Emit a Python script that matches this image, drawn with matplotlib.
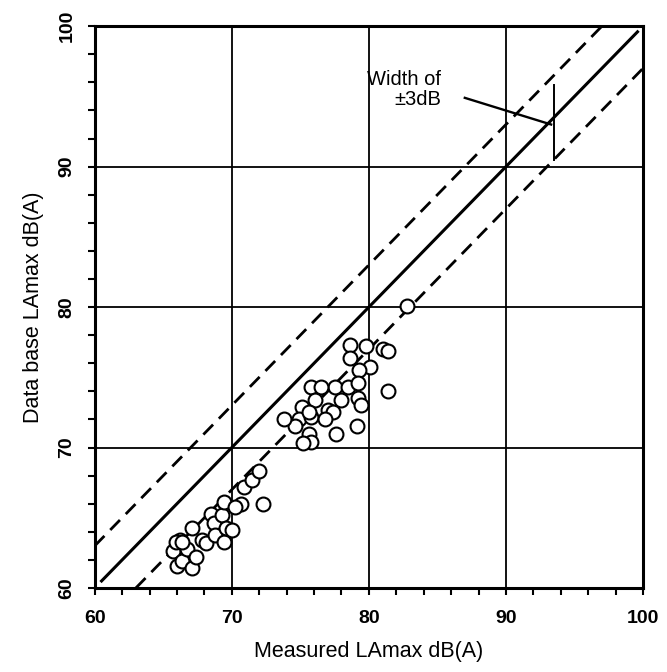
import numpy as np
import matplotlib.pyplot as plt

plt.rcParams['font.family'] = ['Liberation Sans', 'DejaVu Sans']

# measured vs data base LAmax, dB(A)
measured = [65.7, 66.0, 66.4, 67.1, 66.2, 66.7, 67.4, 67.1, 67.8, 68.1,
            68.5, 68.7, 68.8, 69.3, 69.4, 69.6, 70.0, 69.4, 70.7, 72.3,
            70.2, 70.9, 71.5, 72.0, 65.9, 66.4,
            82.8, 78.6, 79.8, 81.0, 81.4, 78.6, 80.1, 79.3, 81.4, 77.5,
            78.5, 79.2, 75.8, 76.5, 78.0, 79.2, 79.4, 79.1, 75.1, 76.1,
            77.0, 77.4, 74.9, 75.8, 76.8, 77.6, 75.6, 74.6, 75.8, 73.8,
            75.2, 75.6]
database = [62.6, 61.6, 61.9, 61.4, 63.4, 62.8, 62.2, 64.3, 63.4, 63.2,
            65.3, 64.6, 63.8, 65.2, 63.3, 64.3, 64.1, 66.1, 66.0, 66.0,
            65.8, 67.2, 67.7, 68.3, 63.3, 63.3,
            80.1, 77.3, 77.2, 77.0, 76.9, 76.4, 75.7, 75.5, 74.0, 74.3,
            74.3, 74.6, 74.3, 74.3, 73.4, 73.5, 73.0, 71.5, 72.9, 73.4,
            72.7, 72.5, 72.0, 72.2, 72.0, 71.0, 71.0, 71.5, 70.4, 72.0,
            70.3, 72.5]

fig = plt.figure(figsize=(6.67, 6.72), dpi=100)
ax = fig.add_axes([0.142, 0.125, 0.822, 0.836])

ax.set_xlim(60, 100)
ax.set_ylim(60, 100)

# reference lines: y = x and +-3 dB
ax.plot([60.5, 99.6], [60.5, 99.6], color='black', lw=2.2, zorder=3)
ax.plot([60, 97], [63, 100], color='black', lw=2.0, ls=(0, (5, 3)), zorder=3)
ax.plot([63, 100], [60, 97], color='black', lw=2.0, ls=(0, (5, 3)), zorder=3)

ax.scatter(measured, database, s=100, facecolors='white', edgecolors='black',
           linewidths=1.5, zorder=4)

# annotation
ax.text(85.3, 94.1, 'Width of\n\u00b13dB', ha='right', va='bottom',
        multialignment='right', fontsize=14.5, linespacing=1.1)
ax.plot([87.0, 93.3], [94.9, 93.0], color='black', lw=1.7)
ax.plot([93.5, 93.5], [90.5, 95.8], color='black', lw=1.4)

ax.set_xticks([60, 70, 80, 90, 100])
ax.set_yticks([60, 70, 80, 90, 100])
ax.set_xticks(np.arange(60, 101, 2), minor=True)
ax.set_yticks(np.arange(60, 101, 2), minor=True)
ax.grid(True, which='major', color='black', lw=1.3)
ax.tick_params(which='both', direction='out', length=5, width=1.5,
               top=False, right=False)
ax.tick_params(axis='x', pad=11, labelsize=14)
ax.tick_params(axis='y', pad=9, labelsize=14, labelrotation=90)
for lab in ax.get_xticklabels() + ax.get_yticklabels():
    lab.set_fontweight('bold')
for lab in ax.get_yticklabels():
    lab.set_va('center')

for sp in ax.spines.values():
    sp.set_linewidth(2.2)

ax.set_xlabel('Measured LAmax dB(A)', fontsize=15.5, labelpad=10)
ax.set_ylabel('Data base LAmax dB(A)', fontsize=15.5, labelpad=10)

fig.savefig('out.png', dpi=100)
